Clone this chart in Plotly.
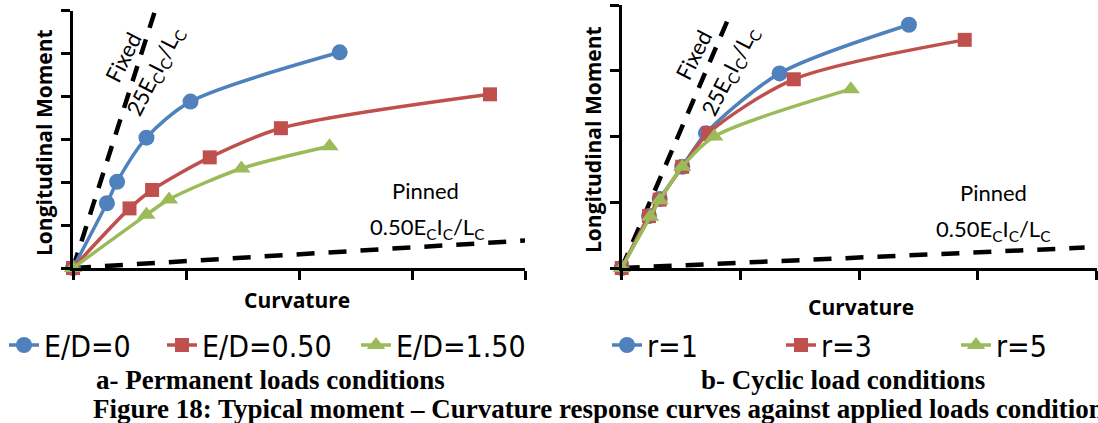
import plotly.graph_objects as go

W, H = 1098, 423

# ---- data (arbitrary curvature / moment units) ----
# a- Permanent loads conditions
ed0_x = [0, 0.30, 0.39, 0.65, 1.04, 2.36]
ed0_y = [0, 1.51, 2.01, 3.04, 3.88, 5.03]
ed050_x = [0, 0.50, 0.70, 1.21, 1.84, 3.69]
ed050_y = [0, 1.39, 1.82, 2.58, 3.26, 4.05]
ed150_x = [0, 0.65, 0.85, 1.49, 2.27]
ed150_y = [0, 1.24, 1.60, 2.32, 2.84]
fixed_a_x = [0, 0.72]
fixed_a_y = [0, 5.95]
pinned_a_x = [0, 4.0]
pinned_a_y = [0, 0.64]

# b- Cyclic load conditions
r1_x = [0, 0.23, 0.32, 0.51, 0.71, 1.33, 2.42]
r1_y = [0, 0.79, 1.05, 1.54, 2.05, 2.96, 3.70]
r3_x = [0, 0.23, 0.32, 0.51, 0.73, 1.45, 2.89]
r3_y = [0, 0.79, 1.04, 1.54, 2.05, 2.87, 3.47]
r5_x = [0, 0.24, 0.32, 0.51, 0.78, 1.93]
r5_y = [0, 0.78, 1.03, 1.54, 2.00, 2.72]
fixed_b_x = [0, 0.89]
fixed_b_y = [0, 3.76]
pinned_b_x = [0, 3.9]
pinned_b_y = [0, 0.31]

names_a = ["E/D=0", "E/D=0.50", "E/D=1.50"]
names_b = ["r=1", "r=3", "r=5"]

BLUE, RED, GREEN = "#4F81BD", "#C0504D", "#9BBB59"
LBL_FONT = "Lato, Open Sans, sans-serif"
LEG_FONT = "Liberation Sans Narrow, Arial Narrow, DejaVu Sans Condensed, Roboto, sans-serif"
SERIF = "Liberation Serif, Times New Roman, serif"


def px(x):
    return x / W


def py(y):
    return 1 - y / H


fig = go.Figure()


def dashed(x, y, xa, ya, dash):
    fig.add_trace(go.Scatter(x=x, y=y, xaxis=xa, yaxis=ya, mode="lines",
                             line=dict(color="black", width=4.5, dash=dash),
                             showlegend=False, hoverinfo="skip", cliponaxis=False))


def series(x, y, name, color, symbol, size, xa, ya, legend):
    fig.add_trace(go.Scatter(x=x, y=y, name=name, xaxis=xa, yaxis=ya,
                             mode="lines+markers", legend=legend,
                             line=dict(color=color, width=3.5, shape="spline", smoothing=0.8),
                             marker=dict(color=color, symbol=symbol, size=size),
                             cliponaxis=False))


dashed(fixed_a_x, fixed_a_y, "x", "y", "16px,12px")
dashed(pinned_a_x, pinned_a_y, "x", "y", "18px,14px")
dashed(fixed_b_x, fixed_b_y, "x2", "y2", "16px,12px")
dashed(pinned_b_x, pinned_b_y, "x2", "y2", "18px,14px")

series(ed0_x, ed0_y, names_a[0], BLUE, "circle", 16, "x", "y", "legend")
series(ed050_x, ed050_y, names_a[1], RED, "square", 14, "x", "y", "legend2")
series(ed150_x, ed150_y, names_a[2], GREEN, "triangle-up", 16, "x", "y", "legend3")
series(r1_x, r1_y, names_b[0], BLUE, "circle", 16, "x2", "y2", "legend4")
series(r3_x, r3_y, names_b[1], RED, "square", 14, "x2", "y2", "legend5")
series(r5_x, r5_y, names_b[2], GREEN, "triangle-up", 16, "x2", "y2", "legend6")

axis_common = dict(showline=True, linecolor="black", linewidth=3, mirror=False,
                   ticks="outside", ticklen=9, tickwidth=3, tickcolor="black",
                   showticklabels=False, showgrid=False, zeroline=False, dtick=1)

title_font = dict(family="Open Sans, sans-serif", size=21, color="black", weight="bold")


def legend_at(x_left):
    # one legend box per entry, so each entry sits at its own spot in the row
    return dict(orientation="h", x=px(x_left), xanchor="left", y=py(345), yanchor="middle",
                font=dict(family=LEG_FONT, size=30, color="black"),
                bgcolor="rgba(0,0,0,0)", itemwidth=30)


fig.update_layout(
    width=W, height=H,
    margin=dict(l=0, r=0, t=0, b=0),
    paper_bgcolor="white", plot_bgcolor="white",
    xaxis=dict(domain=[px(73), px(525)], range=[0, 4], anchor="y", **axis_common),
    yaxis=dict(domain=[py(268), py(10.7)], range=[0, 6], anchor="x", **axis_common),
    xaxis2=dict(domain=[px(621.7), px(1096.5)], range=[0, 4], anchor="y2", **axis_common),
    yaxis2=dict(domain=[py(268), py(5)], range=[0, 4], anchor="x2", **axis_common),
    legend=legend_at(4),
    legend2=legend_at(162),
    legend3=legend_at(356),
    legend4=legend_at(607),
    legend5=legend_at(781),
    legend6=legend_at(956),
    showlegend=True,
)


def sub(s):
    return f"<sub>{s}</sub>"


ann = []
# axis titles
ann.append(dict(text="Longitudinal Moment", x=px(44), y=py(143), textangle=-90,
                font=title_font))
ann.append(dict(text="Longitudinal Moment", x=px(593), y=py(140), textangle=-90,
                font=title_font))
ann.append(dict(text="Curvature", x=px(297), y=py(300), font=title_font))
ann.append(dict(text="Curvature", x=px(861), y=py(307), font=title_font))

# stiffness labels
lbl = dict(family=LBL_FONT, size=22, color="black")
stiff_fixed = f"25E{sub('C')}I{sub('C')}/L{sub('C')}"
stiff_pinned = f"0.50E{sub('C')}I{sub('C')}/L{sub('C')}"
ann.append(dict(text="Fixed", x=px(122.7), y=py(57.3), textangle=-63, font=lbl))
ann.append(dict(text=stiff_fixed, x=px(155), y=py(71.7), textangle=-63, font=lbl))
ann.append(dict(text="Fixed", x=px(694), y=py(55), textangle=-63, font=lbl))
ann.append(dict(text=stiff_fixed, x=px(730), y=py(71.7), textangle=-63, font=lbl))
ann.append(dict(text="Pinned", x=px(425), y=py(190), font=lbl))
ann.append(dict(text=stiff_pinned, x=px(427), y=py(228), font=lbl))
ann.append(dict(text="Pinned", x=px(993), y=py(192), font=lbl))
ann.append(dict(text=stiff_pinned, x=px(993), y=py(230), font=lbl))

# captions
cap = dict(family=SERIF, size=27, color="black", weight="bold")
ann.append(dict(text="a- Permanent loads conditions", x=px(270), y=py(380), font=cap))
ann.append(dict(text="b- Cyclic load conditions", x=px(843), y=py(380), font=cap))
ann.append(dict(text="Figure 18: Typical moment \u2013 Curvature response curves against applied loads conditions",
                x=px(91), y=py(409), xanchor="left", font=cap))

for a in ann:
    a.setdefault("xanchor", "center")
    a.update(xref="paper", yref="paper", showarrow=False, yanchor="middle")
    fig.add_annotation(**a)

fig.write_html("out.html")
